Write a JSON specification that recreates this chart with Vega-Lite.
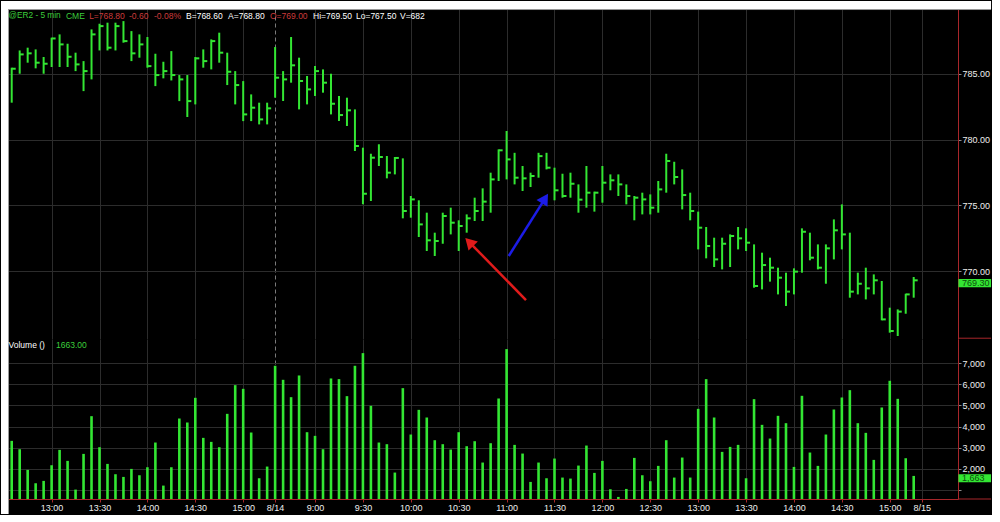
{
"$schema": "https://vega.github.io/schema/vega-lite/v6.json",
"padding": 0,
"background": "#000000",
"spacing": 0,
"bounds": "flush",
"config": {
  "font": "Liberation Sans",
  "view": {"stroke": null},
  "axis": {"labelFont": "Liberation Sans", "labelFontSize": 9, "labelColor": "#eeeeee", "gridColor": "#2c2c2c", "gridWidth": 1, "tickColor": "#8a8a8a", "domainColor": "#a8262a", "labelFlush": false, "labelOverlap": false, "title": null}
},
"datasets": {"bars": [
{"i":0,"t":"8/13 12:35","h":785.46,"l":782.80,"c":785.38,"v":3323},
{"i":1,"t":"8/13 12:40","h":786.77,"l":785.00,"c":786.47,"v":2928},
{"i":2,"t":"8/13 12:45","h":786.98,"l":785.84,"c":786.55,"v":1948},
{"i":3,"t":"8/13 12:50","h":786.85,"l":785.41,"c":785.84,"v":1316},
{"i":4,"t":"8/13 12:55","h":786.27,"l":785.00,"c":785.76,"v":1427},
{"i":5,"t":"8/13 13:00","h":787.74,"l":785.51,"c":787.68,"v":2169},
{"i":6,"t":"8/13 13:05","h":787.99,"l":785.51,"c":787.23,"v":2896},
{"i":7,"t":"8/13 13:10","h":787.28,"l":785.51,"c":786.29,"v":2375},
{"i":8,"t":"8/13 13:15","h":786.60,"l":785.20,"c":785.71,"v":1016},
{"i":9,"t":"8/13 13:20","h":785.96,"l":783.68,"c":785.20,"v":2706},
{"i":10,"t":"8/13 13:25","h":788.37,"l":784.57,"c":787.99,"v":4492},
{"i":11,"t":"8/13 13:30","h":788.80,"l":786.77,"c":788.62,"v":3022},
{"i":12,"t":"8/13 13:35","h":788.88,"l":786.77,"c":786.98,"v":2232},
{"i":13,"t":"8/13 13:40","h":788.88,"l":786.77,"c":788.62,"v":1743},
{"i":14,"t":"8/13 13:45","h":789.00,"l":787.36,"c":787.48,"v":1616},
{"i":15,"t":"8/13 13:50","h":788.24,"l":785.96,"c":786.55,"v":1995},
{"i":16,"t":"8/13 13:55","h":787.99,"l":786.22,"c":787.23,"v":1695},
{"i":17,"t":"8/13 14:00","h":787.79,"l":785.46,"c":785.58,"v":2074},
{"i":18,"t":"8/13 14:05","h":786.52,"l":784.06,"c":784.90,"v":3244},
{"i":19,"t":"8/13 14:10","h":785.91,"l":784.65,"c":785.20,"v":1205},
{"i":20,"t":"8/13 14:15","h":786.72,"l":784.49,"c":784.90,"v":2074},
{"i":21,"t":"8/13 14:20","h":784.90,"l":782.92,"c":784.57,"v":4381},
{"i":22,"t":"8/13 14:25","h":784.90,"l":781.71,"c":782.92,"v":4192},
{"i":23,"t":"8/13 14:30","h":786.27,"l":782.67,"c":786.17,"v":5361},
{"i":24,"t":"8/13 14:35","h":786.85,"l":785.46,"c":785.96,"v":3465},
{"i":25,"t":"8/13 14:40","h":787.61,"l":785.33,"c":787.48,"v":3275},
{"i":26,"t":"8/13 14:45","h":788.12,"l":785.84,"c":786.60,"v":3022},
{"i":27,"t":"8/13 14:50","h":786.60,"l":784.14,"c":785.15,"v":4602},
{"i":28,"t":"8/13 14:55","h":785.20,"l":782.67,"c":784.14,"v":5961},
{"i":29,"t":"8/13 15:00","h":784.44,"l":781.40,"c":781.91,"v":5787},
{"i":30,"t":"8/13 15:05","h":783.43,"l":781.40,"c":782.42,"v":3718},
{"i":31,"t":"8/13 15:10","h":782.80,"l":781.15,"c":781.53,"v":1553},
{"i":32,"t":"8/13 15:15","h":782.80,"l":781.15,"c":782.37,"v":2106},
{"i":33,"t":"8/14 8:35","h":787.03,"l":783.18,"c":784.70,"v":6878},
{"i":34,"t":"8/14 8:40","h":785.20,"l":782.93,"c":784.57,"v":6214},
{"i":35,"t":"8/14 8:45","h":787.79,"l":784.32,"c":785.64,"v":5392},
{"i":36,"t":"8/14 8:50","h":786.22,"l":782.29,"c":784.45,"v":6419},
{"i":37,"t":"8/14 8:55","h":784.83,"l":782.67,"c":783.81,"v":3733},
{"i":38,"t":"8/14 9:00","h":785.59,"l":783.31,"c":785.20,"v":3560},
{"i":39,"t":"8/14 9:05","h":785.33,"l":783.56,"c":784.32,"v":2928},
{"i":40,"t":"8/14 9:10","h":785.00,"l":781.91,"c":782.72,"v":6277},
{"i":41,"t":"8/14 9:15","h":783.31,"l":781.41,"c":781.86,"v":6246},
{"i":42,"t":"8/14 9:20","h":783.18,"l":781.03,"c":782.22,"v":5440},
{"i":43,"t":"8/14 9:25","h":782.29,"l":779.13,"c":779.51,"v":6878},
{"i":44,"t":"8/14 9:30","h":779.38,"l":775.08,"c":775.88,"v":7478},
{"i":45,"t":"8/14 9:35","h":778.92,"l":775.33,"c":778.62,"v":4982},
{"i":46,"t":"8/14 9:40","h":779.64,"l":777.99,"c":778.67,"v":3244},
{"i":47,"t":"8/14 9:45","h":778.75,"l":777.05,"c":777.48,"v":3165},
{"i":48,"t":"8/14 9:50","h":778.67,"l":777.35,"c":778.60,"v":1822},
{"i":49,"t":"8/14 9:55","h":778.57,"l":774.01,"c":774.57,"v":5819},
{"i":50,"t":"8/14 10:00","h":775.71,"l":774.06,"c":775.45,"v":3623},
{"i":51,"t":"8/14 10:05","h":775.38,"l":772.59,"c":773.55,"v":4792},
{"i":52,"t":"8/14 10:10","h":774.44,"l":771.53,"c":772.34,"v":4429},
{"i":53,"t":"8/14 10:15","h":772.92,"l":771.15,"c":772.29,"v":3354},
{"i":54,"t":"8/14 10:20","h":774.44,"l":772.08,"c":774.19,"v":3165},
{"i":55,"t":"8/14 10:25","h":774.82,"l":772.79,"c":773.68,"v":2912},
{"i":56,"t":"8/14 10:30","h":773.86,"l":771.53,"c":773.43,"v":3733},
{"i":57,"t":"8/14 10:35","h":774.31,"l":772.92,"c":774.01,"v":3070},
{"i":58,"t":"8/14 10:40","h":775.58,"l":773.81,"c":774.57,"v":3307},
{"i":59,"t":"8/14 10:45","h":776.29,"l":773.81,"c":775.28,"v":2296},
{"i":60,"t":"8/14 10:50","h":777.48,"l":774.44,"c":776.97,"v":3212},
{"i":61,"t":"8/14 10:55","h":779.25,"l":776.85,"c":779.18,"v":5329},
{"i":62,"t":"8/14 11:00","h":780.65,"l":776.97,"c":778.49,"v":7668},
{"i":63,"t":"8/14 11:05","h":778.99,"l":776.59,"c":777.10,"v":3133},
{"i":64,"t":"8/14 11:10","h":777.99,"l":776.09,"c":777.05,"v":2722},
{"i":65,"t":"8/14 11:15","h":777.48,"l":776.39,"c":777.23,"v":1379},
{"i":66,"t":"8/14 11:20","h":778.99,"l":777.10,"c":778.74,"v":2296},
{"i":67,"t":"8/14 11:25","h":778.99,"l":777.73,"c":777.86,"v":1553},
{"i":68,"t":"8/14 11:30","h":777.86,"l":775.38,"c":776.14,"v":2485},
{"i":69,"t":"8/14 11:35","h":777.40,"l":775.58,"c":775.71,"v":1585},
{"i":70,"t":"8/14 11:40","h":777.48,"l":775.58,"c":776.64,"v":1537},
{"i":71,"t":"8/14 11:45","h":776.59,"l":774.44,"c":775.43,"v":2153},
{"i":72,"t":"8/14 11:50","h":777.99,"l":774.82,"c":775.96,"v":3101},
{"i":73,"t":"8/14 11:55","h":776.04,"l":774.52,"c":775.96,"v":1806},
{"i":74,"t":"8/14 12:00","h":777.99,"l":775.20,"c":776.72,"v":2375},
{"i":75,"t":"8/14 12:05","h":777.35,"l":776.14,"c":776.90,"v":1032},
{"i":76,"t":"8/14 12:10","h":777.35,"l":775.71,"c":776.59,"v":668},
{"i":77,"t":"8/14 12:15","h":776.59,"l":775.07,"c":775.71,"v":1047},
{"i":78,"t":"8/14 12:20","h":775.71,"l":773.86,"c":775.58,"v":2517},
{"i":79,"t":"8/14 12:25","h":775.96,"l":774.31,"c":775.45,"v":1695},
{"i":80,"t":"8/14 12:30","h":775.83,"l":774.31,"c":774.82,"v":1411},
{"i":81,"t":"8/14 12:35","h":776.85,"l":774.44,"c":776.21,"v":2138},
{"i":82,"t":"8/14 12:40","h":778.92,"l":775.96,"c":778.37,"v":3354},
{"i":83,"t":"8/14 12:45","h":778.31,"l":776.59,"c":777.15,"v":1585},
{"i":84,"t":"8/14 12:50","h":777.73,"l":774.69,"c":775.78,"v":2533},
{"i":85,"t":"8/14 12:55","h":775.96,"l":773.86,"c":774.57,"v":1585},
{"i":86,"t":"8/14 13:00","h":774.52,"l":771.65,"c":773.30,"v":4839},
{"i":87,"t":"8/14 13:05","h":773.35,"l":770.97,"c":771.91,"v":6246},
{"i":88,"t":"8/14 13:10","h":772.54,"l":770.31,"c":770.89,"v":4429},
{"i":89,"t":"8/14 13:15","h":772.54,"l":770.13,"c":772.08,"v":2801},
{"i":90,"t":"8/14 13:20","h":772.79,"l":770.31,"c":772.67,"v":3038},
{"i":91,"t":"8/14 13:25","h":773.35,"l":771.65,"c":772.49,"v":3133},
{"i":92,"t":"8/14 13:30","h":773.25,"l":771.53,"c":772.16,"v":1553},
{"i":93,"t":"8/14 13:35","h":772.03,"l":768.74,"c":768.87,"v":5298},
{"i":94,"t":"8/14 13:40","h":771.40,"l":768.61,"c":770.46,"v":4081},
{"i":95,"t":"8/14 13:45","h":771.02,"l":769.20,"c":770.26,"v":3433},
{"i":96,"t":"8/14 13:50","h":770.26,"l":768.23,"c":769.50,"v":4508},
{"i":97,"t":"8/14 13:55","h":769.88,"l":767.35,"c":768.44,"v":4160},
{"i":98,"t":"8/14 14:00","h":770.21,"l":768.23,"c":769.96,"v":2090},
{"i":99,"t":"8/14 14:05","h":773.25,"l":769.88,"c":772.99,"v":5456},
{"i":100,"t":"8/14 14:10","h":772.92,"l":770.82,"c":771.02,"v":2770},
{"i":101,"t":"8/14 14:15","h":772.03,"l":770.13,"c":770.26,"v":2138},
{"i":102,"t":"8/14 14:20","h":772.03,"l":769.04,"c":771.73,"v":3623},
{"i":103,"t":"8/14 14:25","h":773.93,"l":770.89,"c":773.10,"v":4808},
{"i":104,"t":"8/14 14:30","h":775.07,"l":771.65,"c":772.79,"v":5377},
{"i":105,"t":"8/14 14:35","h":772.92,"l":767.98,"c":768.44,"v":5724},
{"i":106,"t":"8/14 14:40","h":769.88,"l":768.23,"c":769.04,"v":4160},
{"i":107,"t":"8/14 14:45","h":770.26,"l":767.85,"c":768.69,"v":3702},
{"i":108,"t":"8/14 14:50","h":769.75,"l":768.23,"c":769.30,"v":2422},
{"i":109,"t":"8/14 14:55","h":769.25,"l":766.26,"c":766.33,"v":4903},
{"i":110,"t":"8/14 15:00","h":767.22,"l":765.32,"c":765.45,"v":6167},
{"i":111,"t":"8/14 15:05","h":767.09,"l":765.07,"c":766.92,"v":5313},
{"i":112,"t":"8/14 15:10","h":768.28,"l":766.76,"c":768.23,"v":2501},
{"i":113,"t":"8/14 15:15","h":769.55,"l":767.98,"c":769.30,"v":1663}
]},
"vconcat": [
{
  "width": 950, "height": 330,
  "view": {"fill": "#000000", "stroke": null},
  "layer": [
    {"data": {"values": [{}]}, "mark": {"type": "rect", "color": "#ffffff"},
     "encoding": {
       "x": {"datum": -1.341, "type": "quantitative", "scale": {"domain": [-0.464, 118.55], "nice": false, "zero": false},
             "axis": {"values": [5,11,17,23,29,33,38,44,50,56,62,68,74,80,86,92,98,104,110,114], "tickCount": 40, "grid": true, "labels": false, "ticks": false, "domain": false,
                      "gridDash": {"condition": {"test": "datum.value == 33", "value": [4,3]}, "value": []},
                      "gridColor": {"condition": {"test": "datum.value == 33", "value": "#7a7a7a"}, "value": "#2c2c2c"}}},
       "x2": {"datum": 122.69},
       "y": {"datum": 789.92, "type": "quantitative", "scale": {"domain": [764.84, 789.92], "nice": false, "zero": false},
             "axis": {"orient": "right", "values": [770, 775, 780, 785], "tickCount": 10, "format": ".2f", "tickSize": 3, "labelPadding": 1, "grid": true, "labelOverlap": false}},
       "y2": {"datum": 790.53}
     }},
    {"data": {"values": [{}]}, "mark": {"type": "rect", "color": "#ffffff"},
     "encoding": {"x": {"datum": -1.341}, "x2": {"datum": -0.464}, "y": {"datum": 764.84}, "y2": {"datum": 790.53}}},
    {"data": {"values": [{}]}, "mark": {"type": "rule", "color": "#9a9a9a", "strokeWidth": 1},
     "encoding": {"x": {"datum": -0.464}, "x2": {"datum": 122.69}, "y": {"datum": 789.88}}},
    {"data": {"values": [{}]}, "mark": {"type": "rule", "color": "#9a9a9a", "strokeWidth": 1},
     "encoding": {"x": {"datum": -0.40}, "y": {"datum": 764.84}, "y2": {"datum": 789.92}}},
    {"data": {"name": "bars"},
     "mark": {"type": "rule", "color": "#33e633", "strokeWidth": 2},
     "encoding": {"x": {"field": "i", "type": "quantitative"}, "y": {"field": "l", "type": "quantitative"}, "y2": {"field": "h"}}},
    {"data": {"name": "bars"},
     "mark": {"type": "rule", "color": "#33e633", "strokeWidth": 2, "x2Offset": 4},
     "encoding": {"x": {"field": "i", "type": "quantitative"}, "x2": {"field": "i"}, "y": {"field": "c", "type": "quantitative"}}},
    {"data": {"values": [{}]}, "mark": {"type": "rule", "color": "#a8262a", "strokeWidth": 1},
     "encoding": {"x": {"datum": 118.55}, "x2": {"datum": 122.69}, "y": {"datum": 764.9}}},
    {"data": {"values": [{}]}, "mark": {"type": "rect", "color": "#33e633"},
     "encoding": {"x": {"datum": 118.6}, "x2": {"datum": 122.69}, "y": {"datum": 768.77}, "y2": {"datum": 769.40}}},
    {"data": {"values": [{}]}, "mark": {"type": "text", "text": "769.30", "align": "left", "baseline": "middle", "fontSize": 9, "color": "#0d4d0d"},
     "encoding": {"x": {"datum": 119.05}, "y": {"datum": 769.09}}},
    {"data": {"values": [{}]}, "mark": {"type": "text", "text": "@ER2 - 5 min", "align": "left", "baseline": "middle", "fontSize": 8.3, "color": "#3ccf3c"},
     "encoding": {"x": {"datum": -0.4}, "y": {"datum": 789.38}}},
    {"data": {"values": [{}]}, "mark": {"type": "text", "text": "CME", "align": "left", "baseline": "middle", "fontSize": 8.5, "color": "#3ccf3c"},
     "encoding": {"x": {"datum": 6.8}, "y": {"datum": 789.38}}},
    {"data": {"values": [{}]}, "mark": {"type": "text", "text": "L=768.80", "align": "left", "baseline": "middle", "fontSize": 8.5, "color": "#cc3b3b"},
     "encoding": {"x": {"datum": 9.7}, "y": {"datum": 789.38}}},
    {"data": {"values": [{}]}, "mark": {"type": "text", "text": "-0.60", "align": "left", "baseline": "middle", "fontSize": 8.5, "color": "#cc3b3b"},
     "encoding": {"x": {"datum": 14.7}, "y": {"datum": 789.38}}},
    {"data": {"values": [{}]}, "mark": {"type": "text", "text": "-0.08%", "align": "left", "baseline": "middle", "fontSize": 8.5, "color": "#cc3b3b"},
     "encoding": {"x": {"datum": 17.83}, "y": {"datum": 789.38}}},
    {"data": {"values": [{}]}, "mark": {"type": "text", "text": "B=768.60", "align": "left", "baseline": "middle", "fontSize": 8.5, "color": "#ffffff"},
     "encoding": {"x": {"datum": 21.84}, "y": {"datum": 789.38}}},
    {"data": {"values": [{}]}, "mark": {"type": "text", "text": "A=768.80", "align": "left", "baseline": "middle", "fontSize": 8.5, "color": "#ffffff"},
     "encoding": {"x": {"datum": 27.1}, "y": {"datum": 789.38}}},
    {"data": {"values": [{}]}, "mark": {"type": "text", "text": "O=769.00", "align": "left", "baseline": "middle", "fontSize": 8.5, "color": "#cc3b3b"},
     "encoding": {"x": {"datum": 32.36}, "y": {"datum": 789.38}}},
    {"data": {"values": [{}]}, "mark": {"type": "text", "text": "Hi=769.50", "align": "left", "baseline": "middle", "fontSize": 8.5, "color": "#ffffff"},
     "encoding": {"x": {"datum": 37.75}, "y": {"datum": 789.38}}},
    {"data": {"values": [{}]}, "mark": {"type": "text", "text": "Lo=767.50", "align": "left", "baseline": "middle", "fontSize": 8.5, "color": "#ffffff"},
     "encoding": {"x": {"datum": 43.13}, "y": {"datum": 789.38}}},
    {"data": {"values": [{}]}, "mark": {"type": "text", "text": "V=682", "align": "left", "baseline": "middle", "fontSize": 8.5, "color": "#ffffff"},
     "encoding": {"x": {"datum": 48.64}, "y": {"datum": 789.38}}},
    {"data": {"values": [{}]}, "mark": {"type": "rule", "color": "#e01b1b", "strokeWidth": 2.5},
     "encoding": {"x": {"datum": 64.43}, "y": {"datum": 767.80}, "x2": {"datum": 57.32}, "y2": {"datum": 772.21}}},
    {"data": {"values": [{}]}, "mark": {"type": "point", "shape": "triangle-up", "filled": true, "opacity": 1, "color": "#e01b1b", "size": 170, "angle": 315.6},
     "encoding": {"x": {"datum": 57.32}, "y": {"datum": 772.21}}},
    {"data": {"values": [{}]}, "mark": {"type": "rule", "color": "#1c1ce6", "strokeWidth": 2.5},
     "encoding": {"x": {"datum": 62.27}, "y": {"datum": 771.15}, "x2": {"datum": 66.81}, "y2": {"datum": 775.51}}},
    {"data": {"values": [{}]}, "mark": {"type": "point", "shape": "triangle-up", "filled": true, "opacity": 1, "color": "#1c1ce6", "size": 170, "angle": 32.3},
     "encoding": {"x": {"datum": 66.81}, "y": {"datum": 775.51}}}
  ]
},
{
  "width": 950, "height": 160,
  "view": {"fill": "#000000", "stroke": null},
  "layer": [
    {"data": {"values": [{}]}, "mark": {"type": "rect", "color": "#ffffff"},
     "encoding": {
       "x": {"datum": -1.341, "type": "quantitative", "scale": {"domain": [-0.464, 118.55], "nice": false, "zero": false},
             "axis": {"values": [5,11,17,23,29,33,38,44,50,56,62,68,74,80,86,92,98,104,110,114], "tickCount": 40, "grid": true, "tickSize": 3, "tickColor": "#a8262a", "labelPadding": 1, "labelOverlap": false,
                      "labelExpr": "['13:00','13:30','14:00','14:30','15:00','8/14','9:00','9:30','10:00','10:30','11:00','11:30','12:00','12:30','13:00','13:30','14:00','14:30','15:00','8/15'][indexof([5,11,17,23,29,33,38,44,50,56,62,68,74,80,86,92,98,104,110,114], datum.value)]",
                      "gridDash": {"condition": {"test": "datum.value == 33", "value": [4,3]}, "value": []},
                      "gridColor": {"condition": {"test": "datum.value == 33", "value": "#7a7a7a"}, "value": "#2c2c2c"}}},
       "x2": {"datum": -0.464},
       "y": {"datum": -140, "type": "quantitative", "scale": {"domain": [570, 8146], "nice": false, "zero": false},
             "axis": {"orient": "right", "values": [1000,2000,3000,4000,5000,6000,7000], "tickCount": 20, "labelExpr": "datum.value == 1000 ? '' : format(datum.value, ',')", "tickSize": 3, "labelPadding": 1, "grid": true, "labelOverlap": false}},
       "y2": {"datum": 8146}
     }},
    {"data": {"values": [{}]}, "mark": {"type": "rule", "color": "#9a9a9a", "strokeWidth": 1},
     "encoding": {"x": {"datum": -0.40}, "y": {"datum": -140}, "y2": {"datum": 8146}}},
    {"data": {"name": "bars"},
     "mark": {"type": "rule", "color": "#33e633", "strokeWidth": 2.6},
     "encoding": {"x": {"field": "i", "type": "quantitative"}, "y": {"field": "v", "type": "quantitative"}, "y2": {"datum": 570}}},
    {"data": {"values": [{}]}, "mark": {"type": "rule", "color": "#a8262a", "strokeWidth": 1},
     "encoding": {"x": {"datum": 118.55}, "x2": {"datum": 122.69}, "y": {"datum": 570}}},
    {"data": {"values": [{}]}, "mark": {"type": "rect", "color": "#33e633"},
     "encoding": {"x": {"datum": 118.6}, "x2": {"datum": 122.69}, "y": {"datum": 1361}, "y2": {"datum": 1740}}},
    {"data": {"values": [{}]}, "mark": {"type": "text", "text": "1,663", "align": "left", "baseline": "middle", "fontSize": 9, "color": "#0d4d0d"},
     "encoding": {"x": {"datum": 119.05}, "y": {"datum": 1550}}},
    {"data": {"values": [{}]}, "mark": {"type": "text", "text": "Volume ()", "align": "left", "baseline": "middle", "fontSize": 8.5, "color": "#ffffff"},
     "encoding": {"x": {"datum": -0.4}, "y": {"datum": 7862}}},
    {"data": {"values": [{}]}, "mark": {"type": "text", "text": "1663.00", "align": "left", "baseline": "middle", "fontSize": 8.5, "color": "#3ccf3c"},
     "encoding": {"x": {"datum": 5.55}, "y": {"datum": 7862}}}
  ]
}
]
}
